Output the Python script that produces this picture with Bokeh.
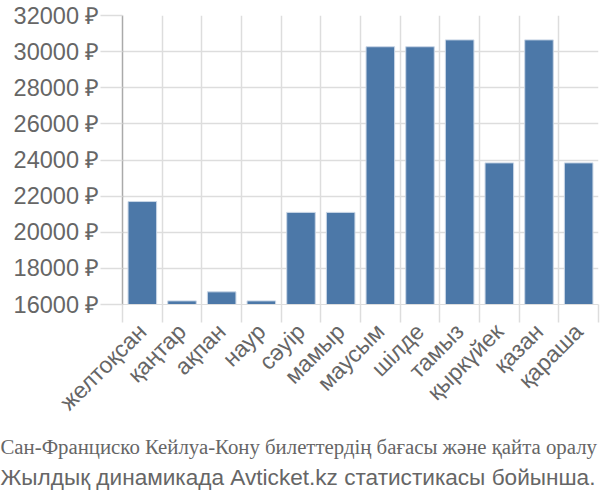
import math
from bokeh.plotting import figure
from bokeh.models import Range1d, FixedTicker, PrintfTickFormatter, Title
from bokeh.embed import file_html
from bokeh.resources import INLINE

months = ["желтоқсан", "қаңтар", "ақпан", "наур", "сәуір", "мамыр",
          "маусым", "шілде", "тамыз", "қыркүйек", "қазан", "қараша"]
prices = [21700, 16200, 16700, 16200, 21100, 21100,
          30270, 30270, 30650, 23840, 30650, 23840]
y_ticks = [16000, 18000, 20000, 22000, 24000, 26000, 28000, 30000, 32000]
caption1 = "Сан-Франциско Кейлуа-Кону билеттердің бағасы және қайта оралу"
caption2 = "Жылдық динамикада Avticket.kz статистикасы бойынша."

n = len(months)
centers = [i + 0.5 for i in range(n)]

p = figure(width=600, height=500, output_backend="svg", toolbar_location=None,
           x_range=Range1d(0, n), y_range=Range1d(16000, 32000),
           min_border_left=122, min_border_right=2, min_border_top=15,
           min_border_bottom=196)
p.outline_line_color = None

p.vbar(x=centers, top=prices, bottom=16000, width=0.72,
       fill_color="#4c78a8", line_color="#c9d6e6", line_width=1)

gray = "#666666"
gridc = "#dddddd"

# x axis
p.xaxis.ticker = FixedTicker(ticks=centers, minor_ticks=list(range(n + 1)))
p.xaxis.major_label_overrides = {c: m for c, m in zip(centers, months)}
p.xaxis.major_label_orientation = math.pi / 4
p.xaxis.major_tick_line_color = None
p.xaxis.major_tick_out = 0
p.xaxis.major_tick_in = 0
p.xaxis.minor_tick_out = 18
p.xaxis.minor_tick_in = 0
p.xaxis.minor_tick_line_color = gridc
p.xaxis.minor_tick_line_width = 1.5
p.xaxis.axis_line_color = gridc
p.xaxis.major_label_text_font = "Liberation Sans"
p.xaxis.major_label_text_font_size = "23px"
p.xaxis.major_label_text_color = gray
p.xaxis.major_label_standoff = 5
p.xgrid.ticker = FixedTicker(ticks=list(range(n + 1)))
p.xgrid.grid_line_color = gridc
p.xgrid.grid_line_width = 1.5

# y axis
p.yaxis.ticker = FixedTicker(ticks=y_ticks)
p.yaxis.formatter = PrintfTickFormatter(format="%d ₽")
p.yaxis.major_tick_out = 22
p.yaxis.major_tick_in = 0
p.yaxis.major_tick_line_color = gridc
p.yaxis.major_tick_line_width = 1.5
p.yaxis.minor_tick_line_color = None
p.yaxis.axis_line_color = "#aaaaaa"
p.yaxis.axis_line_width = 1.5
p.yaxis.major_label_text_font = "Liberation Sans"
p.yaxis.major_label_text_font_size = "23.5px"
p.yaxis.major_label_text_color = gray
p.yaxis.major_label_standoff = 1
p.ygrid.grid_line_color = gridc
p.ygrid.grid_line_width = 1.5

t1 = Title(text=caption1, align="left", text_font="Liberation Sans Narrow",
           text_font_size="20.8px", text_font_style="normal", text_color=gray,
           offset=-122, standoff=10)
t2 = Title(text=caption2, align="left", text_font="Liberation Sans",
           text_font_size="22.6px", text_font_style="normal", text_color=gray,
           offset=-122, standoff=0)
p.add_layout(t1, "below")
p.add_layout(t2, "below")

open("out.html", "w").write(file_html(p, INLINE))
